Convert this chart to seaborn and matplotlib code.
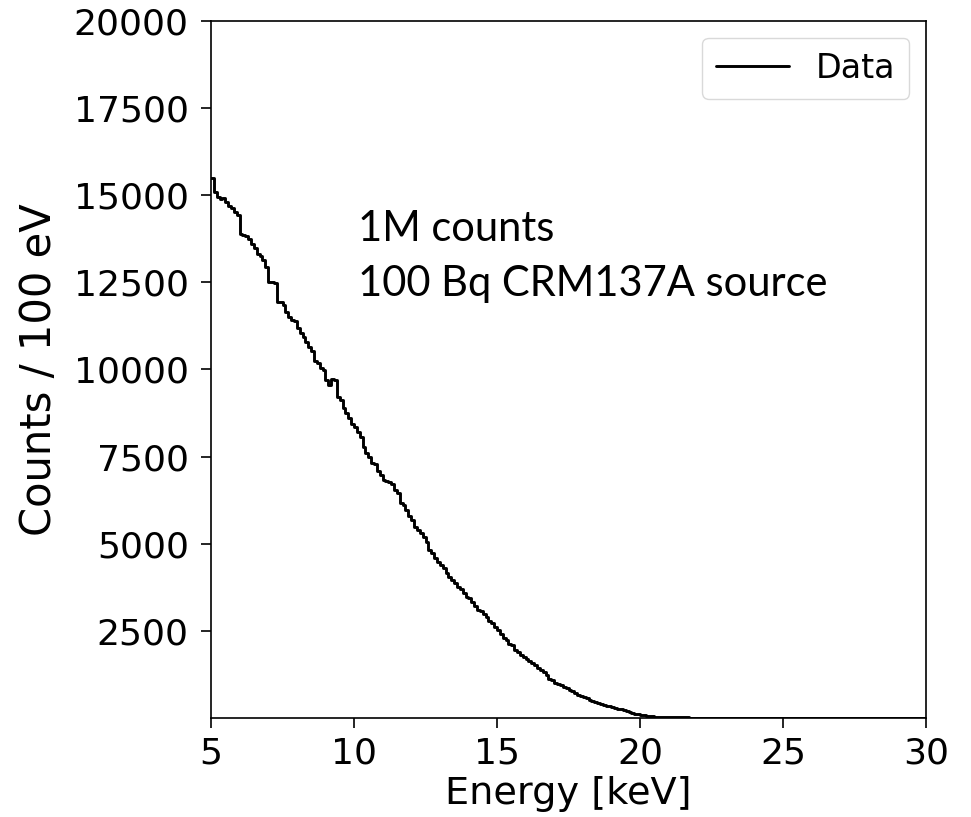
import numpy as np
import pandas as pd
import matplotlib
matplotlib.use("Agg")
import matplotlib.pyplot as plt
import seaborn as sns

# ---- data: counts per 100 eV bin, bins from 5.0 to 30.0 keV (left edges) ----
bin_start_keV = 5.0
bin_width_keV = 0.1
counts = [
    # 5.0 - 5.9
    15500, 15100, 14950, 14900, 14930, 14800, 14700, 14620, 14520, 14430,
    # 6.0 - 6.9
    13900, 13850, 13830, 13750, 13600, 13480, 13320, 13250, 13140, 12950,
    # 7.0 - 7.9
    12520, 12500, 12480, 11950, 11940, 11860, 11650, 11500, 11430, 11400,
    # 8.0 - 8.9
    11190, 11050, 10930, 10800, 10650, 10540, 10250, 10180, 10050, 9980,
    # 9.0 - 9.9
    9700, 9560, 9720, 9700, 9220, 9130, 8900, 8750, 8600, 8450,
    # 10.0 - 10.9
    8350, 8200, 8060, 7790, 7600, 7480, 7330, 7300, 7080, 6980,
    # 11.0 - 11.9
    6840, 6800, 6780, 6700, 6550, 6450, 6180, 6100, 5960, 5800,
    # 12.0 - 12.9
    5680, 5480, 5400, 5310, 5180, 5040, 4830, 4720, 4600, 4480,
    # 13.0 - 13.9
    4390, 4310, 4150, 4040, 3960, 3880, 3750, 3690, 3600, 3480,
    # 14.0 - 14.9
    3430, 3320, 3200, 3100, 3080, 2980, 2900, 2780, 2730, 2600,
    # 15.0 - 15.9
    2520, 2420, 2300, 2230, 2130, 2080, 1960, 1900, 1820, 1760,
    # 16.0 - 16.9
    1700, 1640, 1580, 1510, 1440, 1370, 1310, 1220, 1120, 1080,
    # 17.0 - 17.9
    1010, 980, 950, 890, 860, 810, 780, 720, 660, 630,
    # 18.0 - 18.9
    590, 560, 520, 490, 460, 430, 400, 370, 350, 330,
    # 19.0 - 19.9
    310, 290, 270, 245, 220, 190, 160, 140, 120, 105,
    # 20.0 - 20.9
    90, 75, 62, 52, 45, 38, 33, 28, 25, 22,
    # 21.0 - 21.9
    20, 18, 17, 16, 15, 14, 14, 13, 12, 12,
    # 22.0 - 22.9
    11, 10, 10, 9, 10, 9, 8, 9, 8, 8,
    # 23.0 - 23.9
    8, 7, 8, 7, 7, 6, 7, 6, 6, 6,
    # 24.0 - 24.9
    6, 5, 6, 5, 5, 5, 4, 5, 4, 4,
    # 25.0 - 25.9
    4, 4, 3, 4, 3, 3, 3, 4, 3, 3,
    # 26.0 - 26.9
    3, 2, 3, 2, 3, 2, 2, 3, 2, 2,
    # 27.0 - 27.9
    2, 2, 2, 1, 2, 2, 1, 2, 1, 1,
    # 28.0 - 28.9
    1, 2, 1, 1, 1, 1, 2, 1, 1, 1,
    # 29.0 - 29.9
    1, 1, 1, 0, 1, 1, 0, 1, 1, 0,
]
x_ticks = [5, 10, 15, 20, 25, 30]
y_ticks = [2500, 5000, 7500, 10000, 12500, 15000, 17500, 20000]
annotation_lines = ["1M counts", "100 Bq CRM137A source"]

n = len(counts)
edges = np.round(bin_start_keV + bin_width_keV * np.arange(n + 1), 3)
df = pd.DataFrame({"Energy": edges, "Counts": counts + [counts[-1]]})

sns.set_style("white")
plt.rcParams["font.family"] = ["DejaVu Sans"]
plt.rcParams["axes.edgecolor"] = "black"
plt.rcParams["axes.labelcolor"] = "black"
plt.rcParams["text.color"] = "black"
plt.rcParams["xtick.color"] = "black"
plt.rcParams["ytick.color"] = "black"

fig = plt.figure(figsize=(9.71, 8.17), dpi=100)
ax = fig.add_axes([0.2173, 0.1212, 0.7364, 0.8531])

sns.lineplot(data=df, x="Energy", y="Counts", drawstyle="steps-post",
             color="black", linewidth=2.1, label="Data", ax=ax,
             estimator=None, sort=False)

ax.set_xlim(5, 30)
ax.set_ylim(0, 20000)
ax.set_xticks(x_ticks)
ax.set_yticks(y_ticks)
ax.tick_params(axis="both", which="major", labelsize=26, length=7, width=1.2,
               direction="out", bottom=True, left=True, colors="black")
ax.tick_params(axis="y", pad=9)
ax.tick_params(axis="x", pad=6)
for s in ax.spines.values():
    s.set_linewidth(1.2)
    s.set_color("black")

ax.set_xlabel("Energy [keV]", fontsize=27.5, labelpad=4)
ax.set_ylabel("Counts / 100 eV", fontsize=30, labelpad=10)

leg = ax.legend(loc="upper right", fontsize=24, frameon=True, fancybox=True,
                borderpad=0.42, handlelength=2.2, handletextpad=0.8,
                borderaxespad=0.5)
leg.get_frame().set_edgecolor("#d0d0d0")

ax.text(10.14, 13690, annotation_lines[0], fontsize=30, family=["Lato", "DejaVu Sans"],
        va="baseline", ha="left", color="black")
ax.text(10.14, 12111, annotation_lines[1], fontsize=30, family=["Lato", "DejaVu Sans"],
        va="baseline", ha="left", color="black")

fig.savefig("out.png", dpi=100)
